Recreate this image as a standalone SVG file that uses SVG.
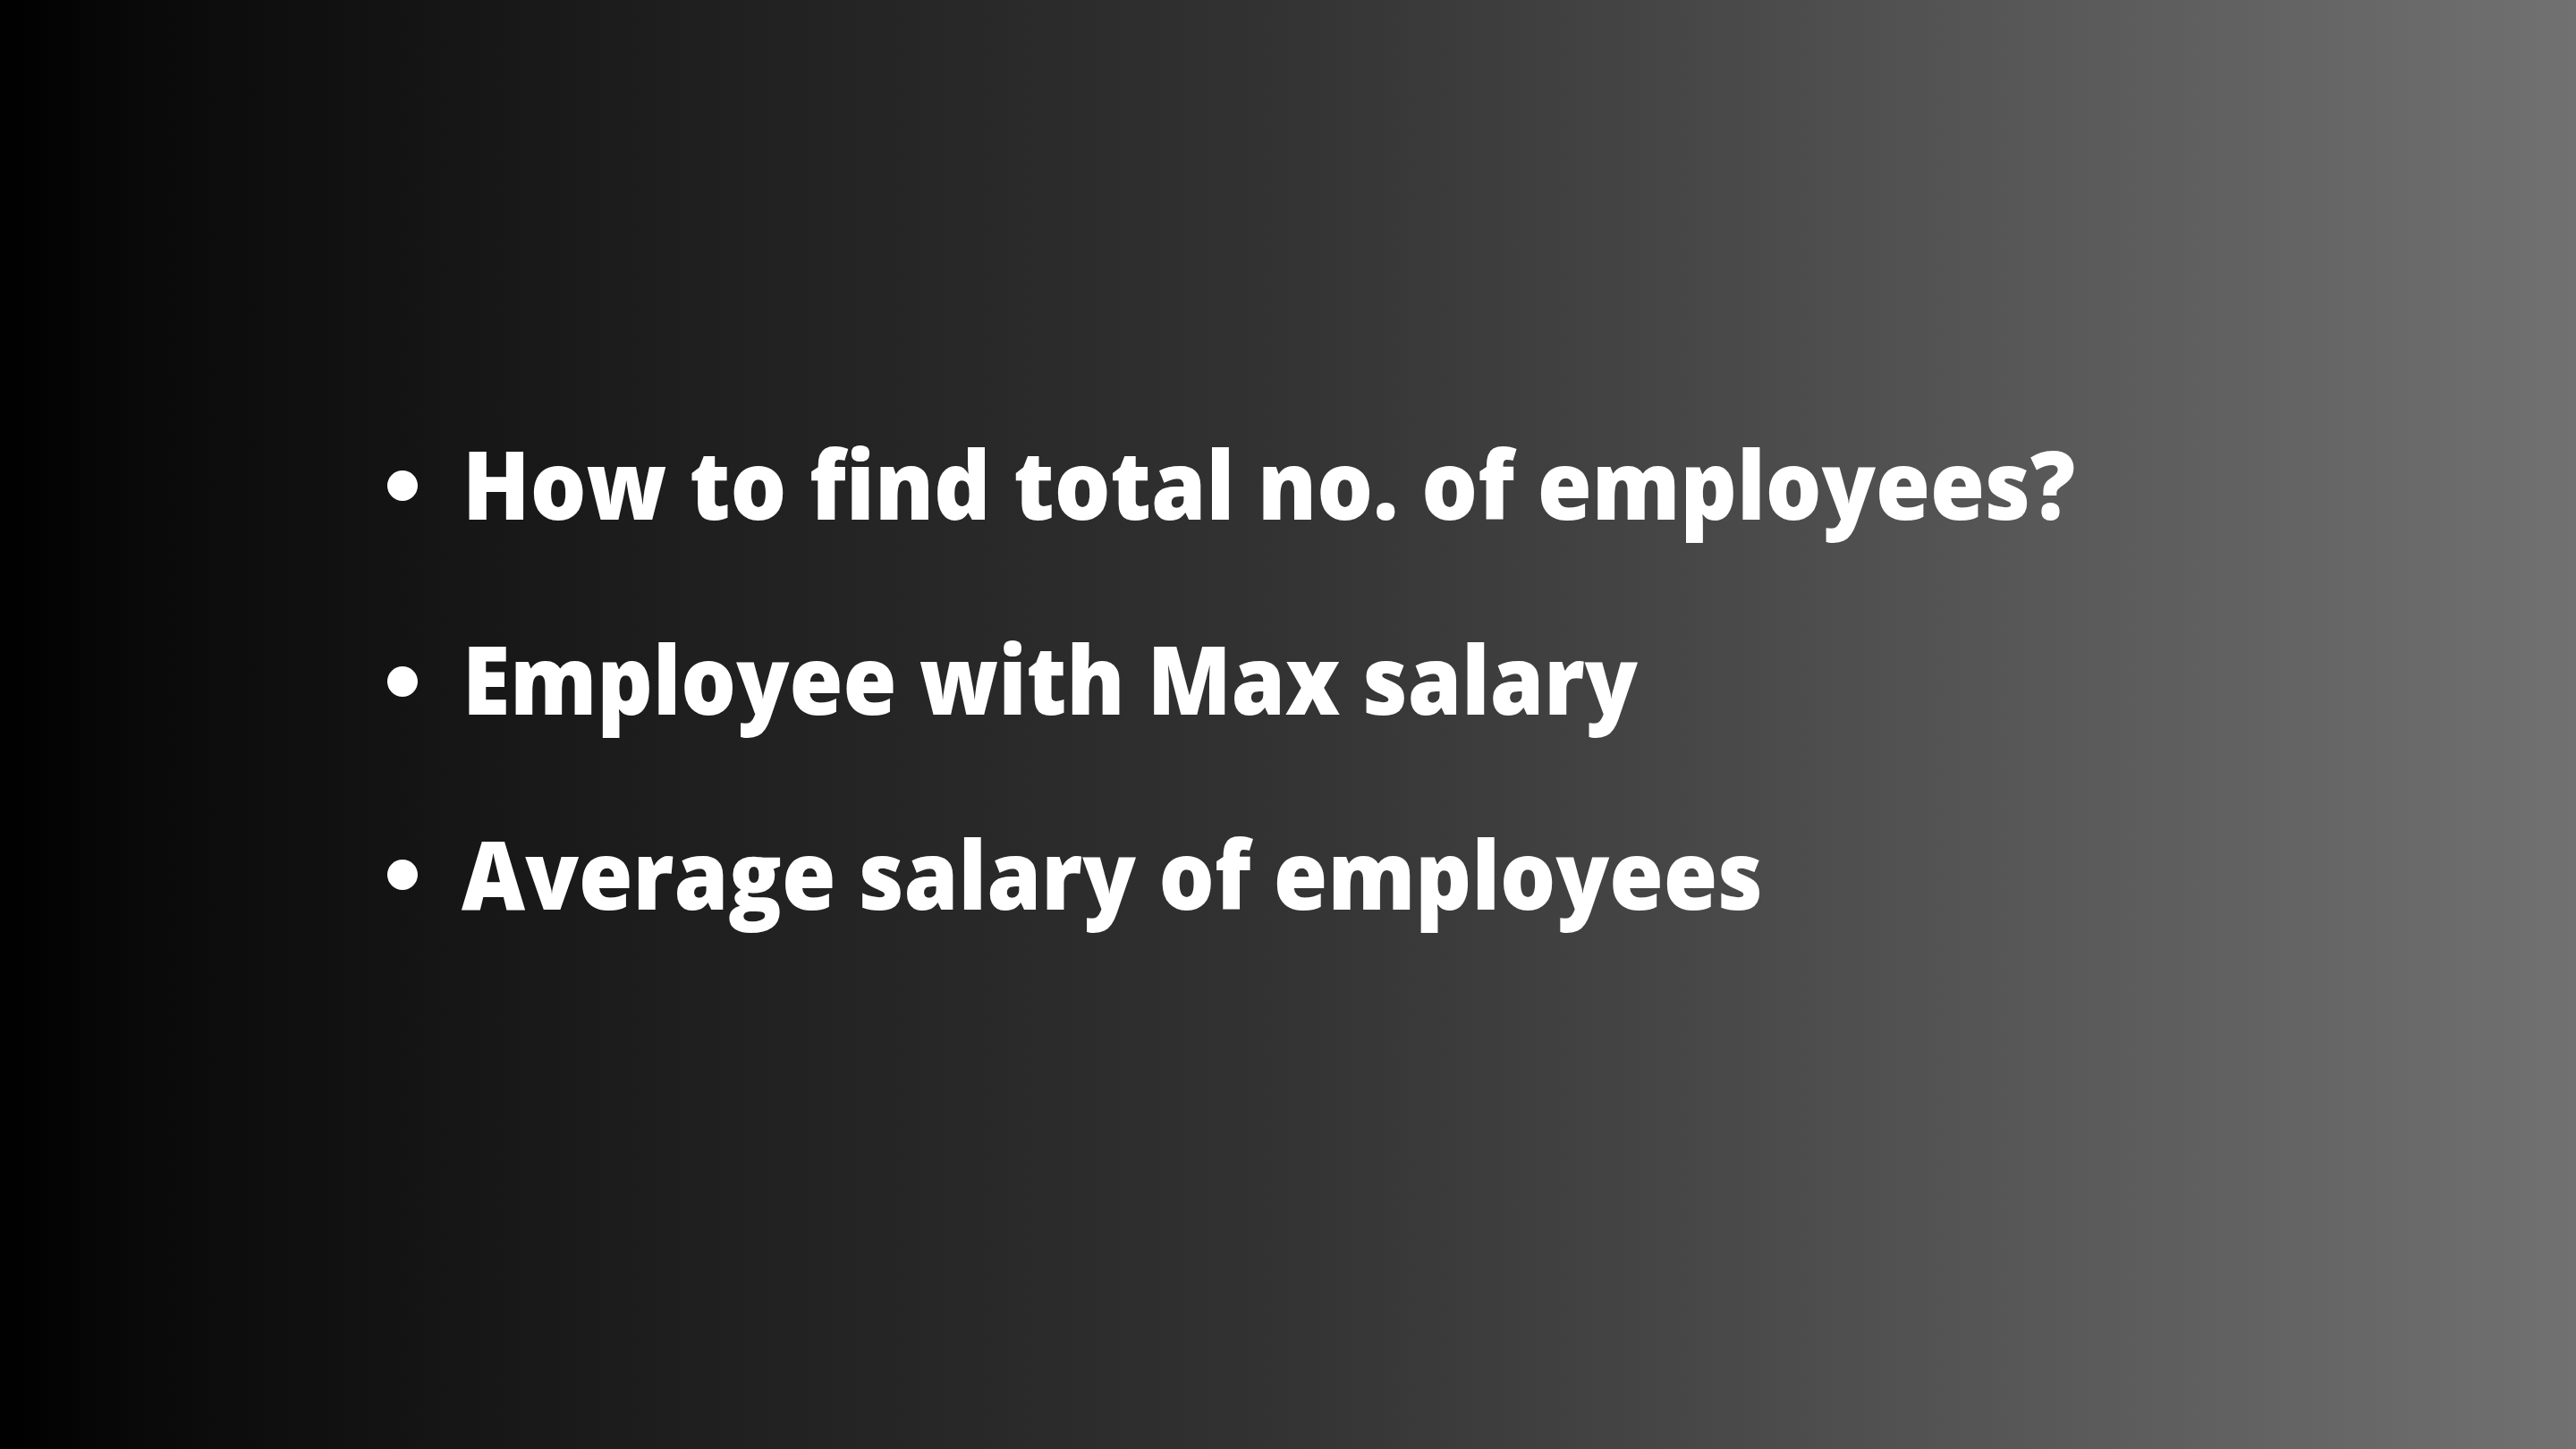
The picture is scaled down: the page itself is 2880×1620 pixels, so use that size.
<svg xmlns="http://www.w3.org/2000/svg" width="2880" height="1620" viewBox="0 0 2880 1620">
<defs>
<linearGradient id="bg" x1="0" y1="0" x2="1" y2="0">
<stop offset="0" stop-color="#000000"/>
<stop offset="0.06" stop-color="#0a0a0a"/>
<stop offset="0.25" stop-color="#1d1d1d"/>
<stop offset="0.5" stop-color="#333333"/>
<stop offset="0.75" stop-color="#535353"/>
<stop offset="1" stop-color="#717171"/>
</linearGradient>
</defs>
<style>
.t{font-family:"Open Sans","Liberation Sans",sans-serif;font-weight:800;font-size:106px;fill:#ffffff}
.b{fill:#ffffff}
</style>
<rect x="0" y="0" width="2880" height="1620" fill="url(#bg)"/>
<g id="item1">
<circle class="b" cx="450" cy="543" r="17"/>
<text class="t" x="517" y="581" textLength="1803" lengthAdjust="spacingAndGlyphs">How to find total no. of employees?</text>
</g>
<g id="item2">
<circle class="b" cx="450" cy="762" r="17"/>
<text class="t" x="517" y="799" textLength="1314" lengthAdjust="spacingAndGlyphs">Employee with Max salary</text>
</g>
<g id="item3">
<circle class="b" cx="450" cy="978" r="17"/>
<text class="t" x="516" y="1017" textLength="1455" lengthAdjust="spacingAndGlyphs">Average salary of employees</text>
</g>
</svg>
